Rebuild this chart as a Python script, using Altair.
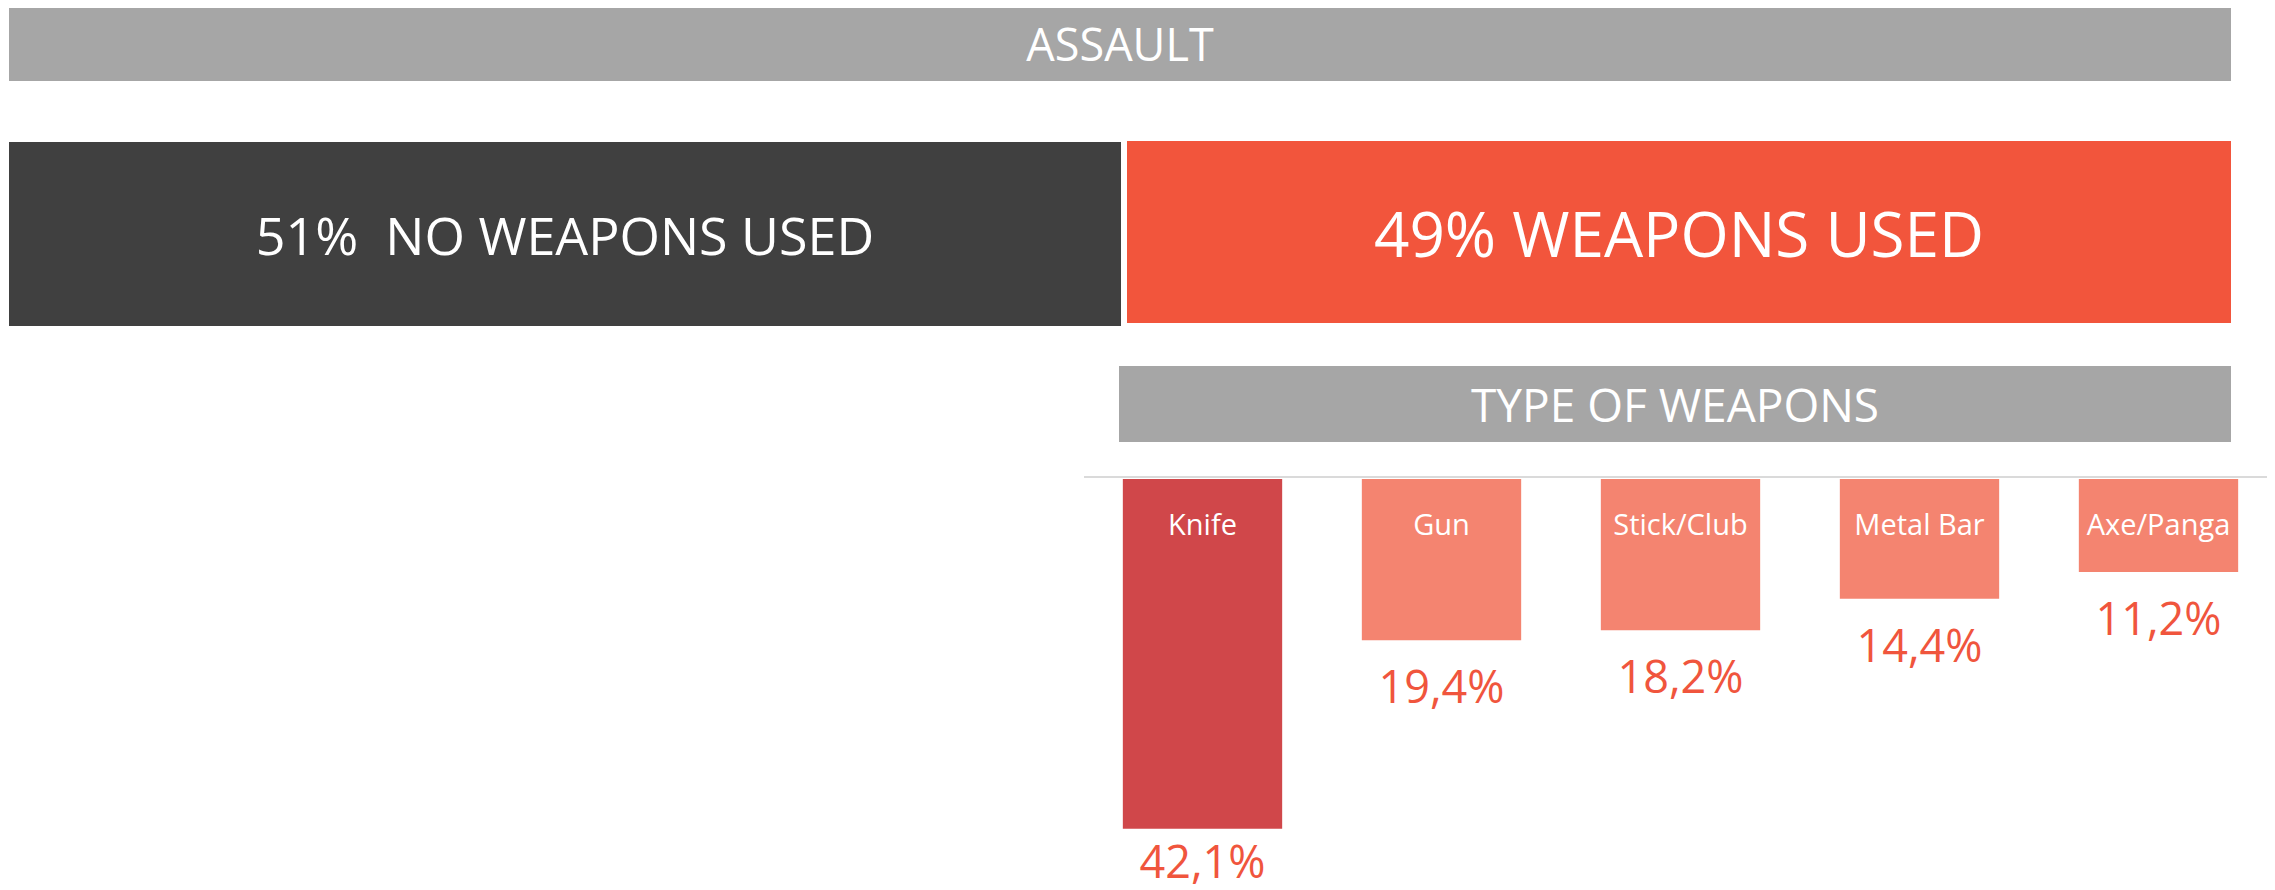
import altair as alt
import pandas as pd

# ---- data ----
headline = "ASSAULT"
split_labels = ["NO WEAPONS USED", "WEAPONS USED"]
split_values = [51, 49]
sub_title = "TYPE OF WEAPONS"
weapons = ["Knife", "Gun", "Stick/Club", "Metal Bar", "Axe/Panga"]
shares = [42.1, 19.4, 18.2, 14.4, 11.2]
bar_colors = ["#D0474A", "#F48470", "#F48470", "#F48470", "#F48470"]

FONT = "Open Sans"
W, H = 2259, 882

df = pd.DataFrame({
    "Weapon": weapons,
    "Share": shares,
    "Label": [f"{v:.1f}".replace(".", ",") + "%" for v in shares],
})

def banner(text, x0, x1, y0, y1, fill, size, baseline_y):
    d = pd.DataFrame({"t": [text]})
    rect = alt.Chart(d).mark_rect(color=fill).encode(
        x=alt.value(x0), x2=alt.value(x1), y=alt.value(y0), y2=alt.value(y1)
    )
    txt = alt.Chart(d).mark_text(
        font=FONT, fontSize=size, color="white", align="center", baseline="alphabetic"
    ).encode(x=alt.value((x0 + x1) / 2), y=alt.value(baseline_y), text="t:N")
    return [rect, txt]

layers = []
layers += banner(headline, 1, 2223, 0, 73, "#A6A6A6", 45, 53)
layers += banner(f"{split_values[0]}%\u00a0\u00a0{split_labels[0]}", 1, 1113, 134, 318, "#404040", 52, 247)
layers += banner(f"{split_values[1]}% {split_labels[1]}", 1119, 2223, 133, 315, "#F2553C", 62, 249)
layers += banner(sub_title, 1111, 2223, 358, 434, "#A6A6A6", 46, 414)

xenc = alt.X("Weapon:N", sort=weapons,
             scale=alt.Scale(range=[1075, 2270], paddingInner=1 / 3, paddingOuter=1 / 6),
             axis=None)
yscale = alt.Scale(domain=[0, 48.5], range=[471, 874], nice=False, zero=True)

# value labels are kept inside the chart's bottom edge
base = alt.Chart(df).transform_calculate(zero="0", pos="min(datum.Share, 40.4)")

bars = base.mark_bar().encode(
    x=xenc,
    y=alt.Y("Share:Q", scale=yscale, axis=None),
    color=alt.Color("Weapon:N", scale=alt.Scale(domain=weapons, range=bar_colors), legend=None),
)

rule = base.mark_rule(color="#DADADA", strokeWidth=2, yOffset=-2).encode(
    y=alt.Y("zero:Q", scale=yscale, axis=None), x=alt.value(1076), x2=alt.value(W)
)

cat_text = base.mark_text(
    font=FONT, fontSize=29, color="white", align="center", baseline="alphabetic", dy=56
).encode(x=xenc, y=alt.Y("zero:Q", scale=yscale, axis=None), text="Weapon:N")

val_text = base.mark_text(
    font=FONT, fontSize=45, color="#F0553D", align="center", baseline="top", dy=27
).encode(x=xenc, y=alt.Y("pos:Q", scale=yscale, axis=None), text="Label:N")

layers += [rule, bars, cat_text, val_text]

chart = alt.layer(*layers).properties(
    width=W, height=H,
    autosize=alt.AutoSizeParams(type="none"),
    padding=0,
).configure_view(stroke=None)

chart.save("out.html", embed_options={"renderer": "svg", "actions": False})
